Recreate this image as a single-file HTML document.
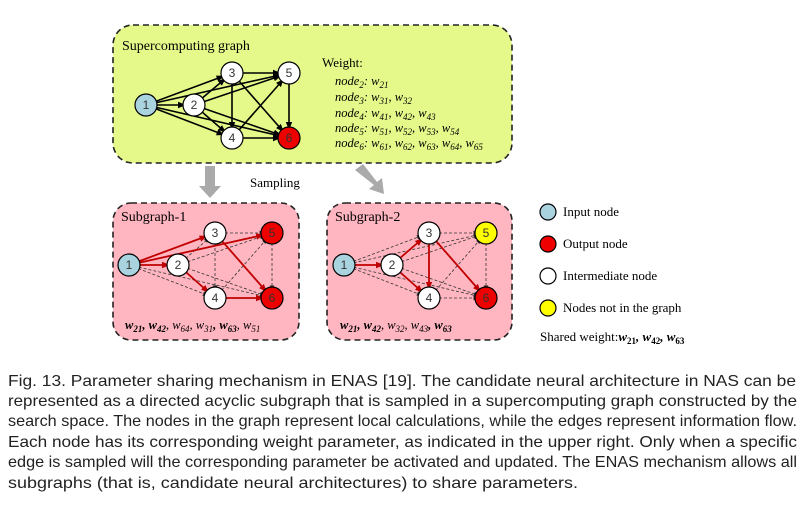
<!DOCTYPE html>
<html><head><meta charset="utf-8"><style>
body{margin:0;background:#fff;width:811px;height:509px;overflow:hidden}
</style></head><body>
<svg width="811" height="509" style="position:absolute;left:0;top:0" font-family="Liberation Serif,serif">
<defs>
<marker id="a" markerUnits="userSpaceOnUse" viewBox="0 0 10 8" refX="20" refY="4" markerWidth="8" markerHeight="7" orient="auto"><path d="M0,0L10,4L0,8z" fill="#000"/></marker>
<marker id="r" markerUnits="userSpaceOnUse" viewBox="0 0 10 8" refX="20" refY="4" markerWidth="8" markerHeight="7" orient="auto"><path d="M0,0L10,4L0,8z" fill="#c00000"/></marker>
<marker id="d" markerUnits="userSpaceOnUse" viewBox="0 0 10 8" refX="21" refY="4" markerWidth="6" markerHeight="5" orient="auto"><path d="M0,0L10,4L0,8z" fill="#333"/></marker>
</defs>
<rect x="113" y="25" width="399" height="138" rx="20" fill="#e4f98a" stroke="#222" stroke-width="1.6" stroke-dasharray="6,4"/>
<text x="122" y="50" font-size="14">Supercomputing graph</text>
<g stroke="#000" stroke-width="1.6" marker-end="url(#a)">
<line x1="146" y1="105" x2="194" y2="105"/><line x1="146" y1="105" x2="232" y2="73"/><line x1="146" y1="105" x2="232" y2="138"/><line x1="146" y1="105" x2="289" y2="73"/><line x1="146" y1="105" x2="289" y2="138"/>
<line x1="194" y1="105" x2="232" y2="73"/><line x1="194" y1="105" x2="232" y2="138"/><line x1="194" y1="105" x2="289" y2="73"/><line x1="194" y1="105" x2="289" y2="138"/>
<line x1="232" y1="73" x2="232" y2="138"/><line x1="232" y1="73" x2="289" y2="73"/><line x1="232" y1="73" x2="289" y2="138"/>
<line x1="232" y1="138" x2="289" y2="73"/><line x1="232" y1="138" x2="289" y2="138"/><line x1="289" y1="73" x2="289" y2="138"/>
</g>
<g stroke="#000" stroke-width="1.2">
<circle cx="146" cy="105" r="11" fill="#a9d3df"/><circle cx="194" cy="105" r="11" fill="#fff"/><circle cx="232" cy="73" r="11" fill="#fff"/><circle cx="289" cy="73" r="11" fill="#fff"/><circle cx="232" cy="138" r="11" fill="#fff"/><circle cx="289" cy="138" r="11" fill="#e00"/>
</g>
<g font-family="Liberation Sans,sans-serif" font-size="12" text-anchor="middle" fill="#333">
<text x="146" y="109">1</text><text x="194" y="109">2</text><text x="232" y="77">3</text><text x="289" y="77">5</text><text x="232" y="142">4</text><text x="289" y="142">6</text>
</g>
<text x="322" y="67" font-size="13">Weight:</text>
<g font-size="12.5" font-style="italic">
<text x="335" y="85">node<tspan font-size="9" dy="3">2</tspan><tspan dy="-3">: w</tspan><tspan font-size="9" dy="3">21</tspan></text>
<text x="335" y="101">node<tspan font-size="9" dy="3">3</tspan><tspan dy="-3">: w</tspan><tspan font-size="9" dy="3">31</tspan><tspan dy="-3">, w</tspan><tspan font-size="9" dy="3">32</tspan></text>
<text x="335" y="117">node<tspan font-size="9" dy="3">4</tspan><tspan dy="-3">: w</tspan><tspan font-size="9" dy="3">41</tspan><tspan dy="-3">, w</tspan><tspan font-size="9" dy="3">42</tspan><tspan dy="-3">, w</tspan><tspan font-size="9" dy="3">43</tspan></text>
<text x="335" y="132">node<tspan font-size="9" dy="3">5</tspan><tspan dy="-3">: w</tspan><tspan font-size="9" dy="3">51</tspan><tspan dy="-3">, w</tspan><tspan font-size="9" dy="3">52</tspan><tspan dy="-3">, w</tspan><tspan font-size="9" dy="3">53</tspan><tspan dy="-3">, w</tspan><tspan font-size="9" dy="3">54</tspan></text>
<text x="335" y="147">node<tspan font-size="9" dy="3">6</tspan><tspan dy="-3">: w</tspan><tspan font-size="9" dy="3">61</tspan><tspan dy="-3">, w</tspan><tspan font-size="9" dy="3">62</tspan><tspan dy="-3">, w</tspan><tspan font-size="9" dy="3">63</tspan><tspan dy="-3">, w</tspan><tspan font-size="9" dy="3">64</tspan><tspan dy="-3">, w</tspan><tspan font-size="9" dy="3">65</tspan></text>
</g>
<path d="M205,166h10v20h6l-11,12l-11,-12h6z" fill="#aaa"/>
<path d="M355,170l8,-6l14,18l5,-4l2,16l-15,-5l5,-4z" fill="#aaa"/>
<text x="250" y="187" font-size="13">Sampling</text>

<rect x="113" y="203" width="186" height="137" rx="18" fill="#ffb6c1" stroke="#222" stroke-width="1.6" stroke-dasharray="6,4"/>
<rect x="327" y="203" width="185" height="137" rx="18" fill="#ffb6c1" stroke="#222" stroke-width="1.6" stroke-dasharray="6,4"/>
<text x="121" y="221" font-size="14">Subgraph-1</text>
<text x="335" y="221" font-size="14">Subgraph-2</text>
<g stroke="#333" stroke-width="0.8" stroke-dasharray="3,2" marker-end="url(#d)">
<line x1="129" y1="265" x2="215" y2="298"/><line x1="129" y1="265" x2="272" y2="298"/>
<line x1="178" y1="265" x2="215" y2="233"/><line x1="178" y1="265" x2="272" y2="233"/><line x1="178" y1="265" x2="272" y2="298"/>
<line x1="215" y1="233" x2="215" y2="298"/><line x1="215" y1="233" x2="272" y2="233"/><line x1="215" y1="298" x2="272" y2="233"/><line x1="272" y1="233" x2="272" y2="298"/>
</g>
<g stroke="#c00000" stroke-width="1.8" marker-end="url(#r)">
<line x1="129" y1="265" x2="178" y2="265"/><line x1="129" y1="265" x2="215" y2="233"/><line x1="129" y1="265" x2="272" y2="233"/><line x1="178" y1="265" x2="215" y2="298"/><line x1="215" y1="233" x2="272" y2="298"/><line x1="215" y1="298" x2="272" y2="298"/>
</g>
<g stroke="#333" stroke-width="0.8" stroke-dasharray="3,2" marker-end="url(#d)">
<line x1="344" y1="265" x2="429" y2="233"/><line x1="344" y1="265" x2="429" y2="298"/><line x1="344" y1="265" x2="486" y2="233"/><line x1="344" y1="265" x2="486" y2="298"/>
<line x1="392" y1="265" x2="486" y2="233"/><line x1="392" y1="265" x2="486" y2="298"/>
<line x1="429" y1="233" x2="486" y2="233"/><line x1="429" y1="298" x2="486" y2="233"/><line x1="429" y1="298" x2="486" y2="298"/><line x1="486" y1="233" x2="486" y2="298"/>
</g>
<g stroke="#c00000" stroke-width="1.8" marker-end="url(#r)">
<line x1="344" y1="265" x2="392" y2="265"/><line x1="392" y1="265" x2="429" y2="233"/><line x1="392" y1="265" x2="429" y2="298"/><line x1="429" y1="233" x2="429" y2="298"/><line x1="429" y1="233" x2="486" y2="298"/>
</g>
<g stroke="#000" stroke-width="1.2">
<circle cx="129" cy="265" r="11" fill="#a9d3df"/><circle cx="178" cy="265" r="11" fill="#fff"/><circle cx="215" cy="233" r="11" fill="#fff"/><circle cx="272" cy="233" r="11" fill="#e00"/><circle cx="215" cy="298" r="11" fill="#fff"/><circle cx="272" cy="298" r="11" fill="#e00"/>
<circle cx="344" cy="265" r="11" fill="#a9d3df"/><circle cx="392" cy="265" r="11" fill="#fff"/><circle cx="429" cy="233" r="11" fill="#fff"/><circle cx="486" cy="233" r="11" fill="#ff0"/><circle cx="429" cy="298" r="11" fill="#fff"/><circle cx="486" cy="298" r="11" fill="#e00"/>
</g>
<g font-family="Liberation Sans,sans-serif" font-size="12" text-anchor="middle" fill="#333">
<text x="129" y="269">1</text><text x="178" y="269">2</text><text x="215" y="237">3</text><text x="272" y="237">5</text><text x="215" y="302">4</text><text x="272" y="302">6</text>
<text x="344" y="269">1</text><text x="392" y="269">2</text><text x="429" y="237">3</text><text x="486" y="237">5</text><text x="429" y="302">4</text><text x="486" y="302">6</text>
</g>
<g font-size="12.5" font-style="italic">
<text x="125" y="329"><tspan font-weight="bold">w</tspan><tspan font-size="9" dy="3" font-weight="bold">21</tspan><tspan dy="-3" font-weight="bold">, w</tspan><tspan font-size="9" dy="3" font-weight="bold">42</tspan><tspan dy="-3">, w</tspan><tspan font-size="9" dy="3">64</tspan><tspan dy="-3">, w</tspan><tspan font-size="9" dy="3">31</tspan><tspan dy="-3" font-weight="bold">, w</tspan><tspan font-size="9" dy="3" font-weight="bold">63</tspan><tspan dy="-3">, w</tspan><tspan font-size="9" dy="3">51</tspan></text>
<text x="340" y="329"><tspan font-weight="bold">w</tspan><tspan font-size="9" dy="3" font-weight="bold">21</tspan><tspan dy="-3" font-weight="bold">, w</tspan><tspan font-size="9" dy="3" font-weight="bold">42</tspan><tspan dy="-3">, w</tspan><tspan font-size="9" dy="3">32</tspan><tspan dy="-3">, w</tspan><tspan font-size="9" dy="3">43</tspan><tspan dy="-3" font-weight="bold">, w</tspan><tspan font-size="9" dy="3" font-weight="bold">63</tspan></text>
</g>
<g stroke="#000" stroke-width="1.2">
<circle cx="548" cy="212" r="8" fill="#a9d3df"/><circle cx="548" cy="244" r="8" fill="#e00"/><circle cx="548" cy="276" r="8" fill="#fff"/><circle cx="548" cy="308" r="8" fill="#ff0"/>
</g>
<g font-size="13">
<text x="563" y="216">Input node</text><text x="563" y="248">Output node</text><text x="563" y="280">Intermediate node</text><text x="563" y="312">Nodes not in the graph</text>
<text x="540" y="341">Shared weight:<tspan font-weight="bold" font-style="italic">w</tspan><tspan font-size="9" dy="3" font-weight="bold">21</tspan><tspan dy="-3" font-weight="bold" font-style="italic">, w</tspan><tspan font-size="9" dy="3" font-weight="bold">42</tspan><tspan dy="-3" font-weight="bold" font-style="italic">, w</tspan><tspan font-size="9" dy="3" font-weight="bold">63</tspan></text>
</g>
<g font-family="Liberation Sans,sans-serif" font-size="16" fill="#222" lengthAdjust="spacingAndGlyphs">
<text x="8" y="386" textLength="788" lengthAdjust="spacingAndGlyphs">Fig. 13. Parameter sharing mechanism in ENAS [19]. The candidate neural architecture in NAS can be</text>
<text x="8" y="406" textLength="789" lengthAdjust="spacingAndGlyphs">represented as a directed acyclic subgraph that is sampled in a supercomputing graph constructed by the</text>
<text x="8" y="426" textLength="789" lengthAdjust="spacingAndGlyphs">search space. The nodes in the graph represent local calculations, while the edges represent information flow.</text>
<text x="8" y="447" textLength="789" lengthAdjust="spacingAndGlyphs">Each node has its corresponding weight parameter, as indicated in the upper right. Only when a specific</text>
<text x="8" y="467" textLength="789" lengthAdjust="spacingAndGlyphs">edge is sampled will the corresponding parameter be activated and updated. The ENAS mechanism allows all</text>
<text x="8" y="488" textLength="570" lengthAdjust="spacingAndGlyphs">subgraphs (that is, candidate neural architectures) to share parameters.</text>
</g>
</svg>
</body></html>
